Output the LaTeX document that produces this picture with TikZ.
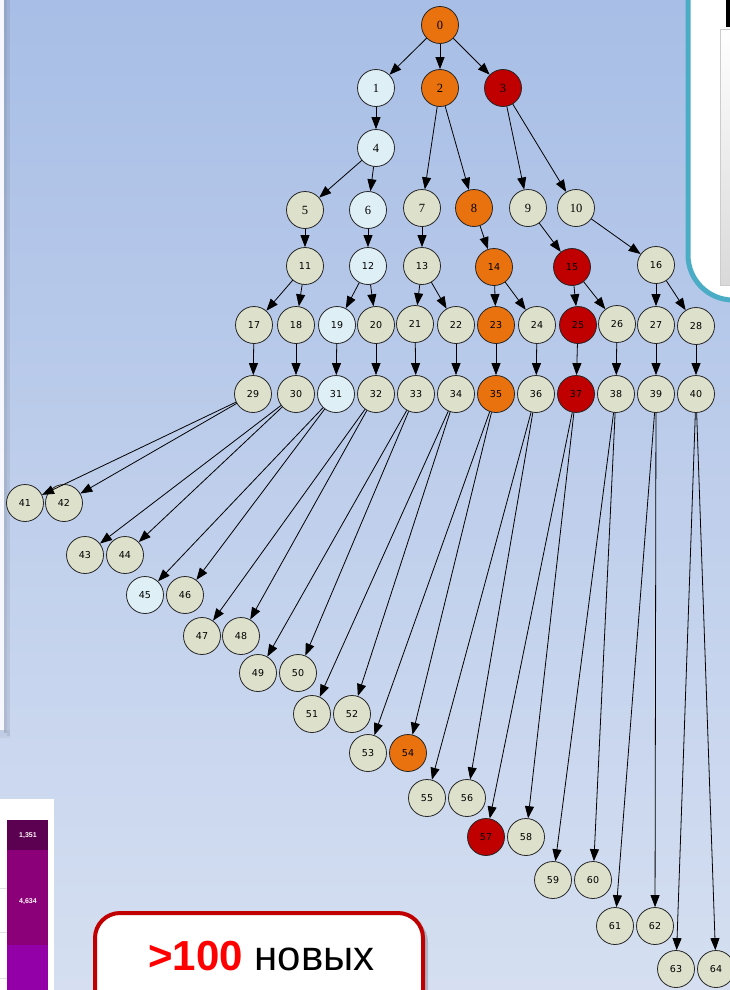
\documentclass[tikz,border=0pt]{standalone}
\usepackage{fontspec}
\setmainfont{Liberation Serif}
\newfontfamily\nsans{DejaVu Sans}
\newfontfamily\nserif{Liberation Serif}
\newfontfamily\arialf{Liberation Sans}
\usetikzlibrary{arrows.meta,shadows}
\definecolor{bgtop}{RGB}{168,190,230}
\definecolor{bgbot}{RGB}{213,223,241}
\definecolor{cO}{RGB}{234,114,14}
\definecolor{cR}{RGB}{192,0,0}
\definecolor{cB}{RGB}{222,239,245}
\definecolor{cG}{RGB}{221,224,202}
\definecolor{cyanb}{RGB}{75,172,198}
\definecolor{boxred}{RGB}{192,0,0}
\definecolor{pdark}{RGB}{92,0,82}
\definecolor{pmid}{RGB}{139,0,120}
\definecolor{plight}{RGB}{148,0,168}
\tikzset{
  nd/.style={circle,draw=black!85,line width=0.8pt,minimum size=37pt,inner sep=0pt,
    font=\nsans\fontsize{9.5}{10}\selectfont},
  ndserif/.style={nd,font=\nserif\fontsize{12.5}{13}\selectfont},
  edge/.style={-{Triangle[length=12pt,width=9pt]},line width=0.8pt,black}
}
\begin{document}
\begin{tikzpicture}[x=1pt,y=-1pt]
\useasboundingbox (0,0) rectangle (730,990);
\clip (0,0) rectangle (730,990);
% background
\shade[top color=bgtop,bottom color=bgbot] (0,0) rectangle (730,990);
% left panel with shadow
\fill[black,opacity=0.12] (4,0) rectangle (7,733);
\fill[black,opacity=0.07] (7,0) rectangle (10,736);
\fill[black,opacity=0.04] (0,730) rectangle (10,738);
\fill[white!97!blue] (0,0) rectangle (4,730);
% top-right panel
\draw[cyanb,line width=5pt,fill=white,rounded corners=45pt] (688,-60) rectangle (790,300);
\shade[top color=white,bottom color=black!15,draw=black!20,line width=0.6pt] (720,29) rectangle (740,285);
\fill[black] (726,-5) rectangle (740,27);
% bottom-left table
\fill[white] (-5,799) rectangle (54,1000);
\draw[black!12,line width=0.6pt] (0,888) -- (7,888) (0,932) -- (7,932) (0,978) -- (7,978);
\fill[pdark] (7,820) rectangle (48,850);
\fill[pmid] (7,850) rectangle (48,945);
\fill[plight] (7,945) rectangle (48,1000);
\node[text=white!90!pink,font=\arialf\bfseries\fontsize{7}{8}\selectfont] (t1) at (28,836) {1,351};
\node[text=white!90!pink,font=\arialf\bfseries\fontsize{7}{8}\selectfont] (t2) at (28,902) {4,634};
% red callout box
\fill[black,opacity=0.18] (99,917) [rounded corners=25pt] rectangle (428,1030);
\draw[boxred,line width=4pt,fill=white,rounded corners=25pt] (95,913) rectangle (423,1030);
\node[anchor=base west,inner sep=0pt,font=\arialf\fontsize{42}{42}\selectfont] (callout) at (148,970)
  {{\color{red}\bfseries >100} новых};
% nodes
\foreach \n/\x/\y/\c in {0/440/25/cO,1/376/88/cB,2/440/88/cO,3/503/88/cR,4/376/148/cB,
  5/305/210/cG,6/368/210/cB,7/422/208/cG,8/474/208/cO,9/528/208/cG,10/576/208/cG}
  \node[ndserif,fill=\c] (n\n) at (\x,\y) {\n};
\foreach \n/\x/\y/\c in {11/305/266/cG,12/368/266/cB,13/422/266/cG,14/494/267/cO,15/572/267/cR,16/656/265/cG,
  17/254/325/cG,18/296/325/cG,19/337/325/cB,20/376/325/cG,21/415/324/cG,22/456/325/cG,
  23/496/325/cO,24/537/325/cG,25/578/325/cR,26/617/324/cG,27/656/325/cG,28/696/326/cG,
  29/253/394/cG,30/296/394/cG,31/336/394/cB,32/376/394/cG,33/416/394/cG,34/456/394/cG,
  35/496/394/cO,36/536/394/cG,37/576/394/cR,38/616/394/cG,39/656/394/cG,40/696/394/cG,
  41/25/503/cG,42/64/503/cG,43/85/555/cG,44/125/555/cG,45/145/595/cB,46/185/595/cG,
  47/202/636/cG,48/241/636/cG,49/258/673/cG,50/298/673/cG,51/312/714/cG,52/352/714/cG,
  53/368/753/cG,54/408/753/cO,55/427/798/cG,56/467/798/cG,57/486/837/cR,58/526/837/cG,
  59/553/880/cG,60/593/880/cG,61/615/926/cG,62/655/926/cG,63/676/969/cG,64/716/969/cG}
  \node[nd,fill=\c] (n\n) at (\x,\y) {\n};
% edges
\foreach \a/\b in {0/1,0/2,0/3,1/4,2/7,2/8,3/9,3/10,4/5,4/6,
  5/11,6/12,7/13,8/14,9/15,10/16,
  11/17,11/18,12/19,12/20,13/21,13/22,14/23,14/24,15/25,15/26,16/27,16/28,
  17/29,18/30,19/31,20/32,21/33,22/34,23/35,24/36,25/37,26/38,27/39,28/40,
  29/41,29/42,30/43,30/44,31/45,31/46,32/47,32/48,33/49,33/50,34/51,34/52,
  35/53,35/54,36/55,36/56,37/57,37/58,38/59,38/60,39/61,39/62,40/63,40/64}
  \draw[edge] (n\a) -- (n\b);
\end{tikzpicture}
\end{document}
